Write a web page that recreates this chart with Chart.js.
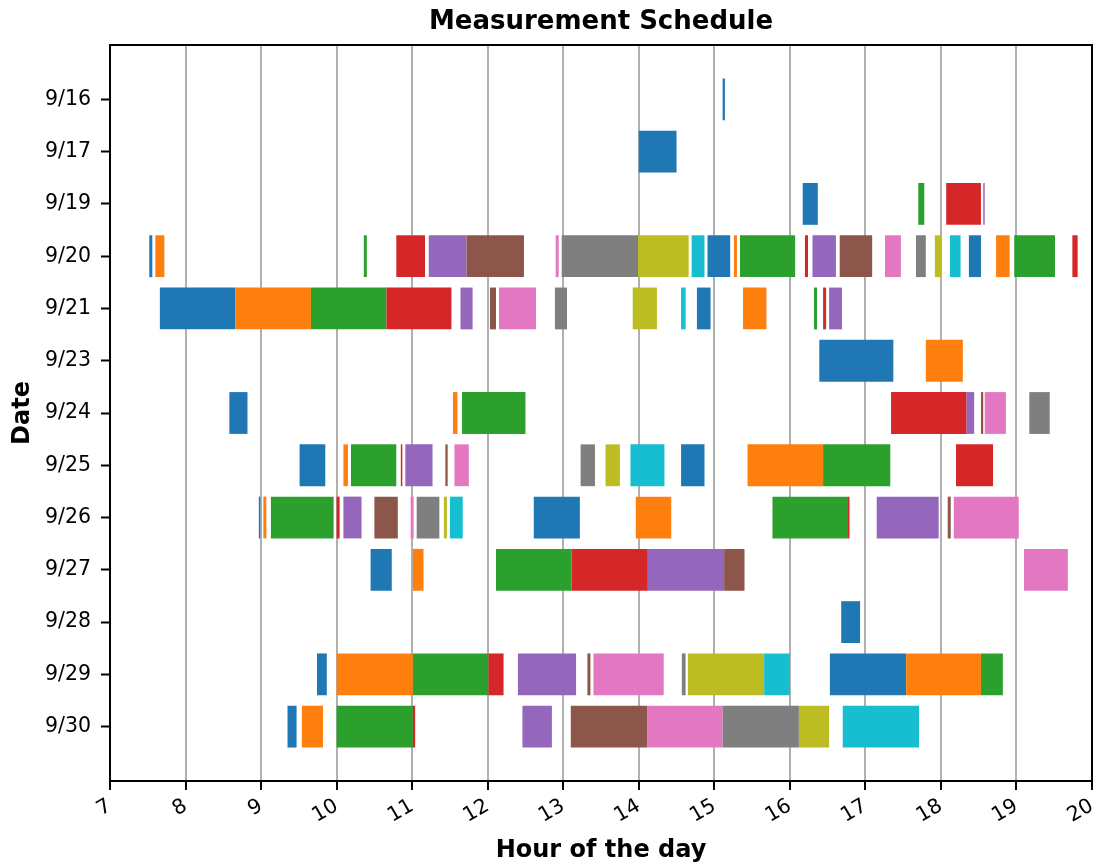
<!DOCTYPE html>
<html>
<head>
<meta charset="utf-8">
<script src="https://cdn.jsdelivr.net/npm/chart.js@4/dist/chart.umd.min.js"></script>
<style>
html, body { margin: 0; padding: 0; background: #fff; }
#wrap { width: 1094px; height: 867px; }
</style>
</head>
<body>
<div id="wrap"><canvas id="c" width="1094" height="867"></canvas></div>
<script>
// ---- data (hours of the day, [start, end]) ----
const chartTitle = 'Measurement Schedule';
const dates = ['9/16','9/17','9/19','9/20','9/21','9/23','9/24','9/25','9/26','9/27','9/28','9/29','9/30'];

const s_0916 = [[15.11,15.14]];
const s_0917 = [[14.00,14.50]];
const s_0919 = [[16.17,16.37],[17.70,17.70],[17.70,17.78],[18.07,18.53],[18.56,18.58]];
const s_0920 = [[7.52,7.56],[7.60,7.72],[10.36,10.40],[10.79,11.17],[11.22,11.72],[11.72,12.48],[12.90,12.94],[12.98,13.99],[13.99,14.66],[14.70,14.87],[14.91,15.21],[15.26,15.30],[15.34,16.07],[16.20,16.24],[16.30,16.61],[16.66,17.09],[17.26,17.47],[17.67,17.80],[17.92,18.01],[18.12,18.26],[18.37,18.53],[18.73,18.91],[18.97,19.51],[19.74,19.81]];
const s_0921 = [[7.66,8.66],[8.66,9.66],[9.66,10.66],[10.66,11.52],[11.64,11.80],[12.03,12.11],[12.15,12.64],[12.89,13.05],[13.92,14.24],[14.56,14.62],[14.77,14.95],[15.38,15.69],[16.32,16.36],[16.44,16.48],[16.52,16.69]];
const s_0923 = [[16.39,17.37],[17.80,18.29]];
const s_0924 = [[8.58,8.82],[11.54,11.60],[11.66,12.50],[17.34,18.34],[18.34,18.44],[18.53,18.56],[18.58,18.86],[19.17,19.44]];
const s_0925 = [[9.51,9.85],[10.09,10.15],[10.19,10.79],[10.85,10.87],[10.91,11.27],[11.44,11.47],[11.56,11.75],[13.23,13.42],[13.56,13.75],[13.89,14.34],[14.56,14.87],[15.44,16.44],[16.44,17.33],[18.20,18.69]];
const s_0926 = [[8.97,8.99],[9.03,9.07],[9.13,9.96],[10.00,10.04],[10.09,10.33],[10.50,10.81],[10.98,11.02],[11.06,11.36],[11.42,11.46],[11.50,11.67],[12.61,13.22],[13.96,14.43],[15.77,16.77],[16.77,16.79],[17.15,17.97],[18.09,18.13],[18.17,19.03]];
const s_0927 = [[10.45,10.73],[11.01,11.15],[12.11,13.11],[13.11,14.12],[14.12,15.13],[15.13,15.40],[19.10,19.68]];
const s_0928 = [[16.68,16.93]];
const s_0929 = [[9.74,9.87],[10.00,11.01],[11.01,12.01],[12.01,12.21],[12.40,13.17],[13.32,13.36],[13.40,14.33],[14.57,14.62],[14.65,15.66],[15.66,16.00],[16.53,17.54],[17.54,18.53],[18.53,18.82]];
const s_0930 = [[9.35,9.47],[9.54,9.82],[10.00,11.01],[11.01,11.04],[12.46,12.85],[13.10,14.11],[14.11,15.11],[15.11,16.12],[16.12,16.52],[16.70,17.71]];

const rows = [s_0916,s_0917,s_0919,s_0920,s_0921,s_0923,s_0924,s_0925,s_0926,s_0927,s_0928,s_0929,s_0930];

const xTicks = [7,8,9,10,11,12,13,14,15,16,17,18,19,20];

// ---- styles ----
const tab10 = ['#1f77b4','#ff7f0e','#2ca02c','#d62728','#9467bd','#8c564b','#e377c2','#7f7f7f','#bcbd22','#17becf'];

const points = [];
const colors = [];
rows.forEach((segs, r) => {
  segs.forEach((seg, i) => {
    points.push({ x: [seg[0], seg[1]], y: r });
    colors.push(tab10[i % tab10.length]);
  });
});

const FONT = "'DejaVu Sans', sans-serif";

const framePlugin = {
  id: 'frame',
  afterDraw(chart) {
    const a = chart.chartArea, ctx = chart.ctx;
    ctx.save();
    ctx.strokeStyle = '#000';
    ctx.lineWidth = 2;
    ctx.strokeRect(a.left, a.top, a.right - a.left, a.bottom - a.top);
    // title centred over the plot area
    ctx.fillStyle = '#000';
    ctx.font = "bold 26px " + FONT;
    ctx.textAlign = 'center';
    ctx.textBaseline = 'alphabetic';
    ctx.fillText(chartTitle, (a.left + a.right) / 2, a.top - 16);
    ctx.restore();
  }
};

new Chart(document.getElementById('c'), {
  type: 'bar',
  data: {
    datasets: [{
      data: points,
      backgroundColor: colors,
      borderWidth: 0,
      barPercentage: 0.8,
      categoryPercentage: 1.0
    }]
  },
  options: {
    responsive: false,
    animation: false,
    indexAxis: 'y',
    layout: { padding: { left: 0, right: 2, top: 45, bottom: 0 } },
    plugins: {
      legend: { display: false },
      tooltip: { enabled: false },
      title: { display: false }
    },
    scales: {
      x: {
        type: 'linear',
        position: 'bottom',
        min: 7, max: 20,
        offset: false,
        afterBuildTicks: (s) => { s.ticks = xTicks.map(v => ({ value: v })); },
        afterFit: (s) => { s.height = 86; s.paddingLeft = 0; s.paddingRight = 0; },
        ticks: {
          autoSkip: false,
          maxRotation: 30, minRotation: 30,
          color: '#000',
          padding: 4,
          font: { family: FONT, size: 20.5 }
        },
        grid: {
          offset: false,
          color: '#b0b0b0',
          lineWidth: 2,
          tickColor: '#000',
          tickLength: 9,
          tickWidth: 2
        },
        border: { color: '#000', width: 2 },
        title: {
          display: true,
          text: 'Hour of the day',
          color: '#000',
          font: { family: FONT, size: 24, weight: 'bold' },
          padding: { top: 0, bottom: 2 }
        }
      },
      y: {
        type: 'linear',
        position: 'left',
        reverse: true,
        offset: false,
        min: -1.04, max: 13.04,
        afterBuildTicks: (s) => { s.ticks = dates.map((d, i) => ({ value: i })); },
        afterFit: (s) => { s.width = 110; s.paddingTop = 0; s.paddingBottom = 0; },
        ticks: {
          autoSkip: false,
          color: '#000',
          padding: 10,
          font: { family: FONT, size: 20.5 },
          callback: (v) => dates[v]
        },
        grid: {
          offset: false,
          drawOnChartArea: false,
          tickColor: '#000',
          tickLength: 9,
          tickWidth: 2
        },
        border: { color: '#000', width: 2 },
        title: {
          display: true,
          text: 'Date',
          color: '#000',
          font: { family: FONT, size: 24, weight: 'bold' },
          padding: { top: 8, bottom: 0 }
        }
      }
    }
  },
  plugins: [framePlugin]
});
</script>
</body>
</html>
